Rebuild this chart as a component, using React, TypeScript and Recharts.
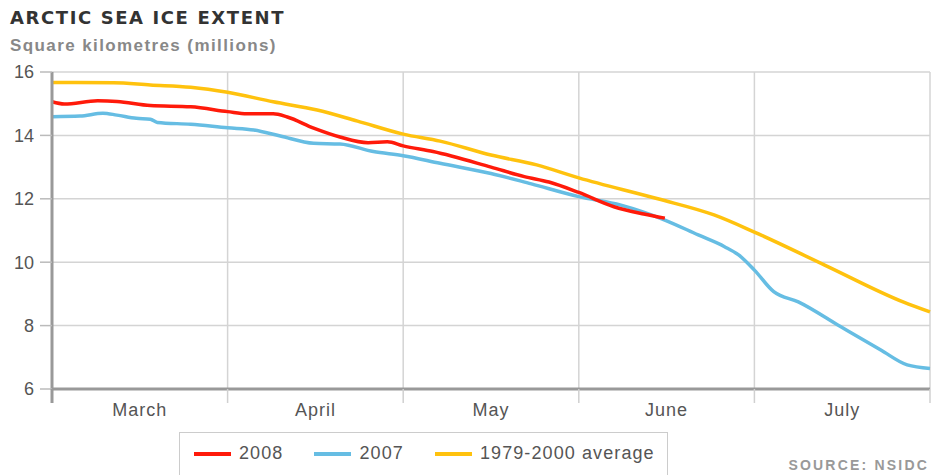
import { LineChart, Line, XAxis, YAxis, CartesianGrid } from 'recharts';

// x positions are in months from 1 March (0 = 1 Mar, 5 = 31 Jul)
const monthLabels = ['March', 'April', 'May', 'June', 'July'];
const monthTicks = [0, 1, 2, 3, 4, 5];
const valueTicks = [6, 8, 10, 12, 14, 16];

const avgMonths = [0, 0.35, 0.56, 0.79, 1.0, 1.26, 1.51, 1.74, 2.0, 2.21, 2.5, 2.76, 3.0, 3.45, 3.77, 4.0, 4.4, 4.85, 5.0];
const avgValues = [15.67, 15.66, 15.59, 15.52, 15.36, 15.06, 14.8, 14.45, 14.04, 13.82, 13.38, 13.07, 12.66, 12.0, 11.49, 10.95, 9.91, 8.74, 8.43];

const y2008Months = [0, 0.07, 0.26, 0.37, 0.56, 0.79, 1.0, 1.11, 1.26, 1.34, 1.49, 1.64, 1.8, 1.91, 2.0, 2.17, 2.5, 2.69, 2.83, 3.0, 3.2, 3.37, 3.49];
const y2008Values = [15.06, 14.99, 15.09, 15.07, 14.94, 14.9, 14.75, 14.68, 14.68, 14.58, 14.23, 13.95, 13.77, 13.8, 13.67, 13.49, 13.0, 12.7, 12.53, 12.2, 11.75, 11.52, 11.39];

const y2007Months = [0, 0.16, 0.29, 0.37, 0.48, 0.56, 0.6, 0.79, 1.0, 1.15, 1.3, 1.49, 1.64, 1.83, 2.0, 2.21, 2.5, 2.73, 3.0, 3.24, 3.49, 3.68, 3.83, 3.91, 4.0, 4.11, 4.25, 4.49, 4.72, 4.87, 5.0];
const y2007Values = [14.59, 14.61, 14.7, 14.64, 14.54, 14.51, 14.41, 14.35, 14.24, 14.17, 13.98, 13.75, 13.73, 13.49, 13.36, 13.12, 12.8, 12.47, 12.07, 11.8, 11.33, 10.86, 10.49, 10.23, 9.75, 9.07, 8.75, 7.97, 7.23, 6.76, 6.65];

const toRows = (months: number[], values: number[]) =>
    months.map((m, i) => ({ m, v: values[i] }));

const avgData = toRows(avgMonths, avgValues);
const data2008 = toRows(y2008Months, y2008Values);
const data2007 = toRows(y2007Months, y2007Values);

const FONT = '"Liberation Sans", Arial, Helvetica, sans-serif';
const MONTH_W = 878 / 5;

function MonthTick({ x, y, payload }: any) {
    const i = payload.value;
    return (
        <g>
            <line
                x1={x}
                x2={x}
                y1={y - 16}
                y2={y - 2}
                stroke={i === 0 ? '#999' : '#d0d0d0'}
                strokeWidth={i === 0 ? 3 : 1.5}
            />
            {i < 5 && (
                <text
                    x={x + MONTH_W / 2}
                    y={y + 11}
                    textAnchor="middle"
                    fill="#555"
                    fontSize={18}
                    fontFamily={FONT}
                    letterSpacing={1}
                >
                    {monthLabels[i]}
                </text>
            )}
        </g>
    );
}

function LegendItem({ color, label, gap }: { color: string; label: string; gap: number }) {
    return (
        <div style={{ display: 'flex', alignItems: 'center', marginRight: gap, whiteSpace: 'nowrap' }}>
            <div style={{ width: 37, height: 4, background: color }} />
            <span style={{ marginLeft: 8, fontSize: 18, letterSpacing: 1.1, color: '#555' }}>{label}</span>
        </div>
    );
}

export default function App() {
    return (
        <div
            style={{
                position: 'absolute',
                left: 0,
                top: 0,
                width: 935,
                height: 475,
                overflow: 'hidden',
                background: '#fff',
                fontFamily: FONT,
            }}
        >
            <LineChart
                width={935}
                height={475}
                margin={{ top: 72, right: 5, bottom: 56, left: 0 }}
            >
                <CartesianGrid stroke="#d4d4d4" strokeWidth={1.5} />
                <XAxis
                    type="number"
                    dataKey="m"
                    domain={[0, 5]}
                    ticks={monthTicks}
                    height={30}
                    tickSize={14}
                    tickMargin={2}
                    tickLine={false}
                    axisLine={{ stroke: '#999', strokeWidth: 3 }}
                    tick={<MonthTick />}
                />
                <YAxis
                    type="number"
                    domain={[6, 16]}
                    ticks={valueTicks}
                    width={52}
                    tickSize={12}
                    tickMargin={6}
                    tickLine={{ stroke: '#bbb', strokeWidth: 1.5 }}
                    axisLine={{ stroke: '#999', strokeWidth: 3 }}
                    tick={{ fill: '#555', fontSize: 18, fontFamily: FONT }}
                />
                <Line
                    data={avgData}
                    dataKey="v"
                    type="monotone"
                    stroke="#ffc20e"
                    strokeWidth={3.5}
                    dot={false}
                    isAnimationActive={false}
                />
                <Line
                    data={data2007}
                    dataKey="v"
                    type="monotone"
                    stroke="#66bde3"
                    strokeWidth={3.5}
                    dot={false}
                    isAnimationActive={false}
                />
                <Line
                    data={data2008}
                    dataKey="v"
                    type="monotone"
                    stroke="#ff1a0a"
                    strokeWidth={3.5}
                    dot={false}
                    isAnimationActive={false}
                />
            </LineChart>

            <div
                style={{
                    position: 'absolute',
                    left: 10,
                    top: 7,
                    fontFamily: '"DejaVu Sans", sans-serif',
                    fontWeight: 'bold',
                    fontSize: 18,
                    letterSpacing: 1.6,
                    color: '#333',
                    whiteSpace: 'nowrap',
                }}
            >
                ARCTIC SEA ICE EXTENT
            </div>
            <div
                style={{
                    position: 'absolute',
                    left: 10,
                    top: 36,
                    fontWeight: 'bold',
                    fontSize: 17,
                    letterSpacing: 1.4,
                    color: '#888',
                    whiteSpace: 'nowrap',
                }}
            >
                Square kilometres (millions)
            </div>

            <div
                style={{
                    position: 'absolute',
                    left: 179,
                    top: 432,
                    width: 489,
                    height: 60,
                    border: '1.5px solid #ccc',
                    boxSizing: 'border-box',
                    display: 'flex',
                    alignItems: 'flex-start',
                    flexWrap: 'nowrap',
                    paddingLeft: 14,
                    paddingTop: 10,
                }}
            >
                <LegendItem color="#ff1a0a" label="2008" gap={31} />
                <LegendItem color="#66bde3" label="2007" gap={31} />
                <LegendItem color="#ffc20e" label="1979-2000 average" gap={0} />
            </div>

            <div
                style={{
                    position: 'absolute',
                    right: 6,
                    top: 457,
                    fontWeight: 'bold',
                    fontSize: 14,
                    letterSpacing: 2.2,
                    color: '#999',
                    whiteSpace: 'nowrap',
                }}
            >
                SOURCE: NSIDC
            </div>
        </div>
    );
}
